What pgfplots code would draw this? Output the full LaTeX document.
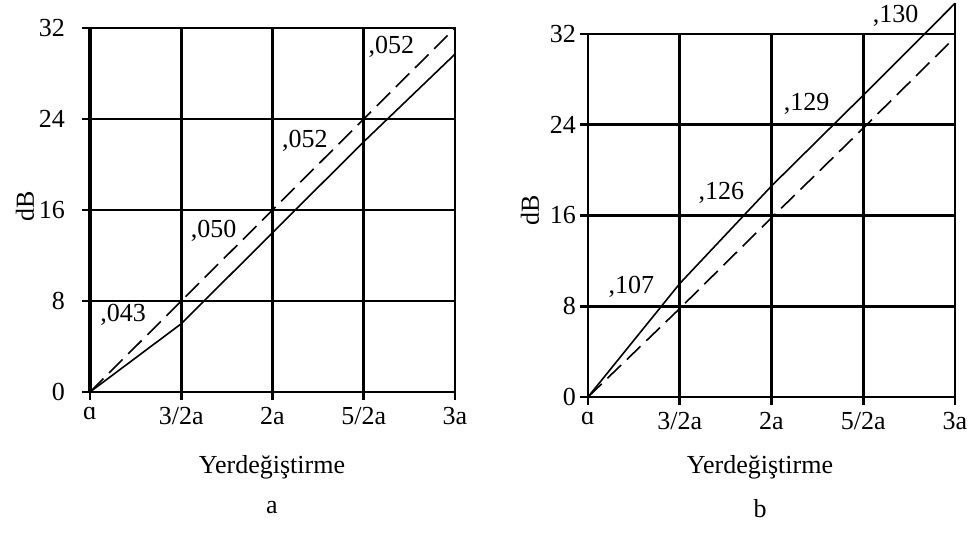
\documentclass[border=0pt]{standalone}
\usepackage{fontspec}
\setmainfont{Liberation Serif}
\usepackage{pgfplots}
\pgfplotsset{compat=1.18}

\pgfplotsset{
  panel/.style={
    scale only axis, anchor=south west,
    xmin=0, xmax=4, ymin=0, ymax=32,
    xtick={0,1,2,3,4}, ytick={0,8,16,24,32},
    xticklabels={ɑ,3/2a,2a,5/2a,3a},
    yticklabels={0,8,16,24,32},
    grid=major, grid style={black, line width=1.4pt},
    axis line style={black, line width=1.4pt},
    tick align=outside, xtick pos=bottom, ytick pos=left,
    major tick length=4pt, tick style={black, line width=1.4pt},
    xticklabel style={yshift=1pt},
    clip=false,
  },
  solidline/.style={black, line width=0.8pt, no marks},
  dashline/.style={black, line width=0.8pt, no marks, dash pattern=on 9.5pt off 4pt},
}
\tikzset{val/.style={anchor=west, inner sep=0pt}}

\begin{document}
\fontsize{13}{15.5}\selectfont
\begin{tikzpicture}
\path[use as bounding box] (0pt,0pt) rectangle (490pt,266.5pt);

% panel a
\begin{axis}[panel, at={(45pt,70.5pt)}, width=182.5pt, height=182pt,
  yticklabel style={xshift=-4pt}]
  \addplot[dashline] coordinates {(0,0) (1,8) (2,16) (3,24) (4,32)};
  \addplot[solidline] coordinates {(0,0) (1,6) (2,14) (3,22) (4,29.7)};
  \draw[black, line width=2.4pt] (rel axis cs:0,0) -- (rel axis cs:0,1);
  \node[val] at (axis cs:0.11,6.8) {,043};
  \node[val] at (axis cs:1.1,14.2) {,050};
  \node[val] at (axis cs:2.1,22.1) {,052};
  \node[val] at (axis cs:3.05,30.3) {,052};
\end{axis}

% panel b
\begin{axis}[panel, at={(294pt,68pt)}, width=183.5pt, height=181.5pt,
  yticklabel style={xshift=2.5pt}]
  \addplot[dashline] coordinates {(0,0) (1,7.8) (2,15.8) (3,23.7) (4,31.7)};
  \addplot[solidline] coordinates {(0,0) (1,10) (2,18.6) (3,26.6) (4,34.7)};
  \addplot[black, line width=1.4pt, no marks] coordinates {(4,32) (4,34.7)};
  \node[val] at (axis cs:0.22,9.7) {,107};
  \node[val] at (axis cs:1.2,18.0) {,126};
  \node[val] at (axis cs:2.13,25.8) {,129};
  \node[val] at (axis cs:3.1,33.6) {,130};
\end{axis}

% axis titles
\node[rotate=90] at (12.5pt,163.5pt) {dB};
\node at (136pt,33pt) {Yerdeğiştirme};
\node at (136pt,12.5pt) {a};
\node[rotate=90] at (265pt,161.5pt) {dB};
\node at (380pt,33pt) {Yerdeğiştirme};
\node at (380pt,12pt) {b};
\end{tikzpicture}
\end{document}
